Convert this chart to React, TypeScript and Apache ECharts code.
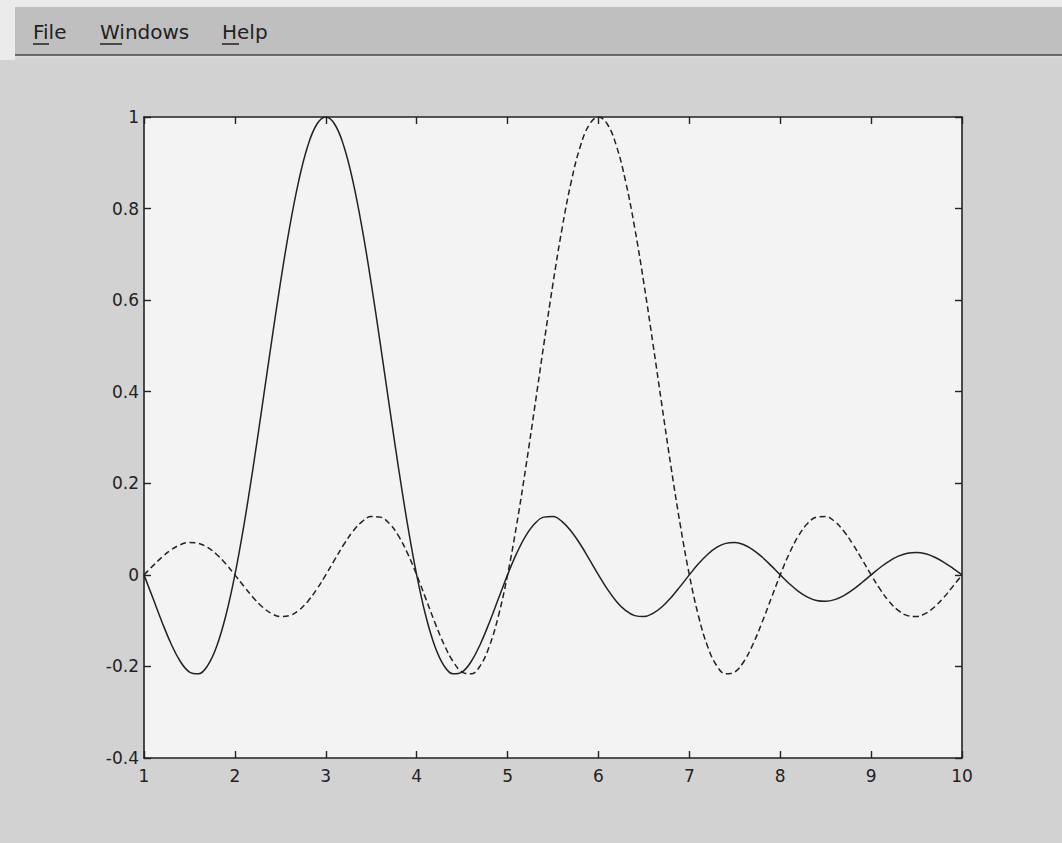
import React, { useEffect, useRef } from "react";
import * as echarts from "echarts";

// x sample positions
const xs = [
  1.0, 1.1, 1.2, 1.3, 1.4, 1.5, 1.6, 1.7, 1.8, 1.9,
  2.0, 2.1, 2.2, 2.3, 2.4, 2.5, 2.6, 2.7, 2.8, 2.9,
  3.0, 3.1, 3.2, 3.3, 3.4, 3.5, 3.6, 3.7, 3.8, 3.9,
  4.0, 4.1, 4.2, 4.3, 4.4, 4.5, 4.6, 4.7, 4.8, 4.9,
  5.0, 5.1, 5.2, 5.3, 5.4, 5.5, 5.6, 5.7, 5.8, 5.9,
  6.0, 6.1, 6.2, 6.3, 6.4, 6.5, 6.6, 6.7, 6.8, 6.9,
  7.0, 7.1, 7.2, 7.3, 7.4, 7.5, 7.6, 7.7, 7.8, 7.9,
  8.0, 8.1, 8.2, 8.3, 8.4, 8.5, 8.6, 8.7, 8.8, 8.9,
  9.0, 9.1, 9.2, 9.3, 9.4, 9.5, 9.6, 9.7, 9.8, 9.9,
  10.0,
];

// solid curve (peak at x = 3)
const solidValues = [
  0, -0.0518, -0.1039, -0.1515, -0.1892, -0.2122, -0.2162, -0.1981, -0.1559, -0.0894,
  0, 0.1093, 0.2339, 0.3679, 0.5046, 0.6366, 0.7568, 0.8584, 0.9355, 0.9836,
  1, 0.9836, 0.9355, 0.8584, 0.7568, 0.6366, 0.5046, 0.3679, 0.2339, 0.1093,
  0, -0.0894, -0.1559, -0.1981, -0.2162, -0.2122, -0.1892, -0.1515, -0.1039, -0.0518,
  0, 0.0468, 0.085, 0.112, 0.1261, 0.1273, 0.1164, 0.0954, 0.0668, 0.0339,
  0, -0.0317, -0.0585, -0.078, -0.089, -0.0909, -0.0841, -0.0696, -0.0492, -0.0252,
  0, 0.024, 0.0446, 0.0599, 0.0688, 0.0707, 0.0658, 0.0548, 0.039, 0.0201,
  0, -0.0193, -0.036, -0.0486, -0.0561, -0.0579, -0.0541, -0.0452, -0.0323, -0.0167,
  0, 0.0161, 0.0302, 0.0409, 0.0473, 0.049, 0.0459, 0.0384, 0.0275, 0.0143,
  0,
];

// dashed curve (peak at x = 6)
const dashedValues = [
  0, 0.0201, 0.039, 0.0548, 0.0658, 0.0707, 0.0688, 0.0599, 0.0446, 0.024,
  0, -0.0252, -0.0492, -0.0696, -0.0841, -0.0909, -0.089, -0.078, -0.0585, -0.0317,
  0, 0.0339, 0.0668, 0.0954, 0.1164, 0.1273, 0.1261, 0.112, 0.085, 0.0468,
  0, -0.0518, -0.1039, -0.1515, -0.1892, -0.2122, -0.2162, -0.1981, -0.1559, -0.0894,
  0, 0.1093, 0.2339, 0.3679, 0.5046, 0.6366, 0.7568, 0.8584, 0.9355, 0.9836,
  1, 0.9836, 0.9355, 0.8584, 0.7568, 0.6366, 0.5046, 0.3679, 0.2339, 0.1093,
  0, -0.0894, -0.1559, -0.1981, -0.2162, -0.2122, -0.1892, -0.1515, -0.1039, -0.0518,
  0, 0.0468, 0.085, 0.112, 0.1261, 0.1273, 0.1164, 0.0954, 0.0668, 0.0339,
  0, -0.0317, -0.0585, -0.078, -0.089, -0.0909, -0.0841, -0.0696, -0.0492, -0.0252,
  0,
];

const menuItems = ["File", "Windows", "Help"];
const menuX = [33, 100, 222];

const X_MIN = 1, X_MAX = 10, X_STEP = 1;
const Y_MIN = -0.4, Y_MAX = 1, Y_STEP = 0.2;

const INK = "#222222";
const FONT = "DejaVu Sans";

export default function App() {
  const ref = useRef<HTMLDivElement>(null);

  useEffect(() => {
    if (!ref.current) return;
    const chart = echarts.init(ref.current, undefined, { renderer: "svg" });

    const lineStyle = { color: INK, width: 1.6 };
    const tick = { show: true, inside: true, length: 7, lineStyle: { color: INK, width: 1.4 } };

    const xBase = {
      type: "value" as const,
      min: X_MIN,
      max: X_MAX,
      interval: X_STEP,
      splitLine: { show: false },
      axisLine: { show: true, onZero: false, lineStyle },
      axisTick: tick,
    };
    const yBase = {
      type: "value" as const,
      min: Y_MIN,
      max: Y_MAX,
      interval: Y_STEP,
      splitLine: { show: false },
      axisLine: { show: true, onZero: false, lineStyle },
      axisTick: tick,
    };

    const graphics: any[] = [
      { type: "rect", shape: { x: 0, y: 0, width: 1062, height: 843 }, style: { fill: "#d2d2d2" }, z: -10, silent: true },
      { type: "rect", shape: { x: 0, y: 0, width: 1062, height: 7 }, style: { fill: "#ebebeb" }, z: -9, silent: true },
      { type: "rect", shape: { x: 0, y: 0, width: 15, height: 60 }, style: { fill: "#ebebeb" }, z: -9, silent: true },
      { type: "rect", shape: { x: 15, y: 7, width: 1047, height: 48 }, style: { fill: "#bfbfbf" }, z: -8, silent: true },
      { type: "line", shape: { x1: 15, y1: 55, x2: 1062, y2: 55 }, style: { stroke: "#4a4a4a", lineWidth: 1.5 }, z: -7, silent: true },
      { type: "line", shape: { x1: 15, y1: 57, x2: 1062, y2: 57 }, style: { stroke: "#e2e2e2", lineWidth: 1 }, z: -7, silent: true },
    ];
    menuItems.forEach((label, i) => {
      graphics.push({
        type: "text",
        x: menuX[i],
        y: 32,
        style: { text: label, fill: "#222", font: `20px "${FONT}"`, verticalAlign: "middle" },
        silent: true,
      });
      const w = label[0] === "W" ? 22 : label[0] === "H" ? 17 : 16;
      graphics.push({
        type: "line",
        shape: { x1: menuX[i], y1: 44, x2: menuX[i] + w, y2: 44 },
        style: { stroke: "#222", lineWidth: 1.5 },
        silent: true,
      });
    });

    const option: any = {
      animation: false,
      backgroundColor: "#d2d2d2",
      graphic: graphics,
      grid: {
        left: 144,
        right: 100,
        top: 117,
        bottom: 85,
        show: true,
        backgroundColor: "#f3f3f3",
        borderWidth: 0,
      },
      xAxis: [
        {
          ...xBase,
          position: "bottom",
          axisLabel: { show: true, color: INK, fontSize: 17, fontFamily: FONT, margin: 9 },
        },
        {
          ...xBase,
          position: "top",
          axisLabel: { show: false },
        },
      ],
      yAxis: [
        {
          ...yBase,
          position: "left",
          axisLabel: { show: true, color: INK, fontSize: 17, fontFamily: FONT, margin: 5 },
        },
        {
          ...yBase,
          position: "right",
          axisLabel: { show: false },
        },
      ],
      series: [
        {
          type: "line",
          name: "solid",
          xAxisIndex: 0,
          yAxisIndex: 0,
          data: xs.map((x, i) => [x, solidValues[i]]),
          showSymbol: false,
          symbol: "none",
          smooth: 0.4,
          lineStyle: { color: INK, width: 1.5, type: "solid" },
        },
        {
          type: "line",
          name: "dashed",
          xAxisIndex: 0,
          yAxisIndex: 0,
          data: xs.map((x, i) => [x, dashedValues[i]]),
          showSymbol: false,
          symbol: "none",
          smooth: 0.4,
          lineStyle: { color: INK, width: 1.5, type: [6, 3.5] },
        },
      ],
    };

    chart.setOption(option);
    return () => chart.dispose();
  }, []);

  return (
    <div
      ref={ref}
      style={{ position: "absolute", left: 0, top: 0, width: 1062, height: 843 }}
    />
  );
}
